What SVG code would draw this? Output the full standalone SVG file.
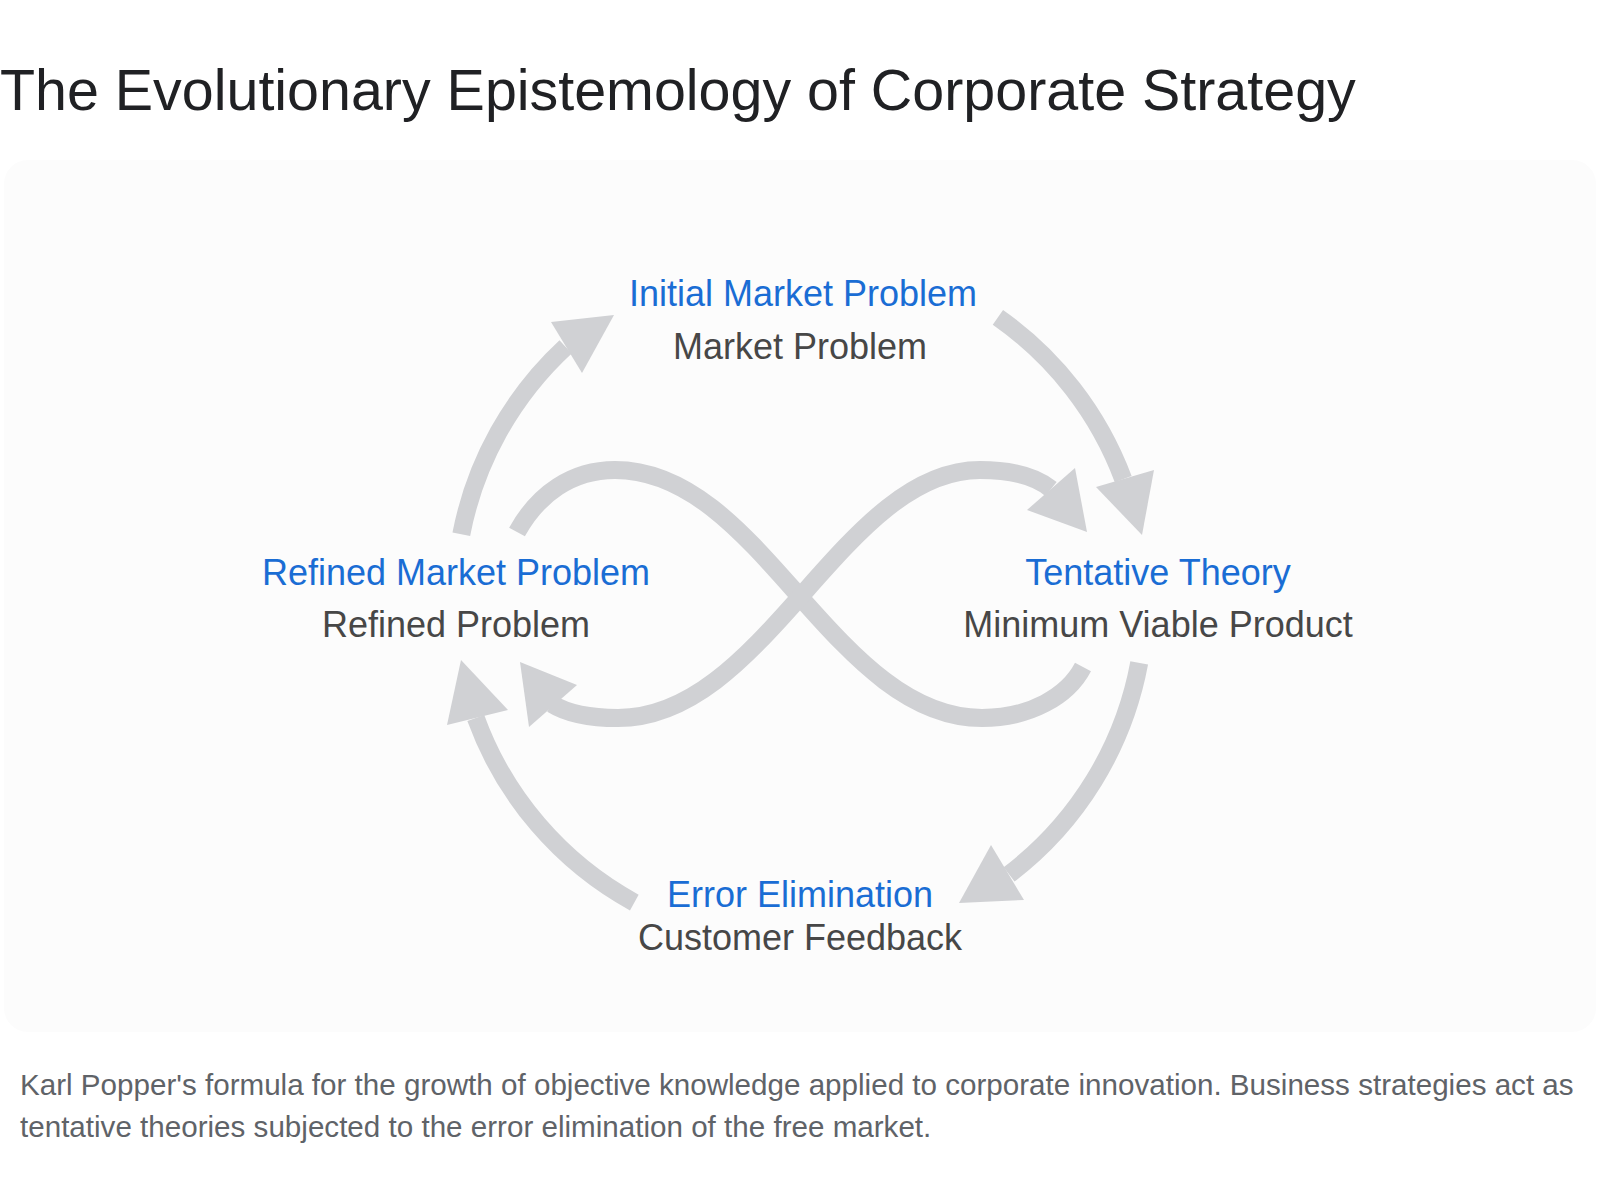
<svg xmlns="http://www.w3.org/2000/svg" width="1600" height="1200" viewBox="0 0 1600 1200">
  <style>
    .title { font-family: "Liberation Sans", Arial, sans-serif; font-size: 57.4px; fill: #202124; }
    .head { font-family: "Liberation Sans", Arial, sans-serif; font-size: 36px; fill: #1a6dd4; text-anchor: middle; }
    .sub { font-family: "Liberation Sans", Arial, sans-serif; font-size: 36px; fill: #474747; text-anchor: middle; }
    .caption { font-family: "Liberation Sans", Arial, sans-serif; font-size: 29.6px; fill: #5f6368; }
    .shaft { fill: none; stroke: #d0d1d4; stroke-width: 18; stroke-linecap: butt; }
    .head-tri { fill: #d0d1d4; }
  </style>
  <rect width="1600" height="1200" fill="#ffffff"/>
  <text class="title" x="0" y="110">The Evolutionary Epistemology of Corporate Strategy</text>
  <rect id="panel" x="4" y="160" width="1592" height="872" rx="24" fill="#fcfcfc"/>

  <g id="connectors">
    <!-- outer cycle -->
    <path class="shaft" d="M461.3,534.2 A345,345 0 0 1 565.6,346.9"/>
    <polygon class="head-tri" points="614,315 551,322 582,373"/>
    <path class="shaft" d="M997.9,317.4 A345,345 0 0 1 1123.2,479.2"/>
    <polygon class="head-tri" points="1142,535 1096,487 1154,470"/>
    <path class="shaft" d="M1139.2,662.9 A345,345 0 0 1 1009.1,874.4"/>
    <polygon class="head-tri" points="959,903 991,845 1024,900"/>
    <path class="shaft" d="M634.3,902.6 A345,345 0 0 1 475.8,718"/>
    <polygon class="head-tri" points="461,660 447,725 508,710"/>
    <!-- infinity loop -->
    <path class="shaft" d="M517,532 C538,494 572,470 615,470 C690,470 745,535 800,597 C855,659 910,718 982,718 C1030,718 1068,696 1083,667"/>
    <path class="shaft" d="M552,704 C568,714 590,718 618,718 C690,718 745,659 800,597 C855,535 910,470 980,470 C1010,470 1035,476 1051,489"/>
    <polygon class="head-tri" points="520,662 577,685 529,727"/>
    <polygon class="head-tri" points="1087,532 1027,510 1075,468"/>
  </g>

  <g id="node-initial">
    <text class="head" x="803" y="306">Initial Market Problem</text>
    <text class="sub" x="800" y="359">Market Problem</text>
  </g>
  <g id="node-tentative">
    <text class="head" x="1158" y="585">Tentative Theory</text>
    <text class="sub" x="1158" y="637">Minimum Viable Product</text>
  </g>
  <g id="node-error">
    <text class="head" x="800" y="907">Error Elimination</text>
    <text class="sub" x="800" y="950">Customer Feedback</text>
  </g>
  <g id="node-refined">
    <text class="head" x="456" y="585">Refined Market Problem</text>
    <text class="sub" x="456" y="637">Refined Problem</text>
  </g>

  <g id="caption">
    <text class="caption" x="20" y="1095">Karl Popper's formula for the growth of objective knowledge applied to corporate innovation. Business strategies act as</text>
    <text class="caption" x="20" y="1137">tentative theories subjected to the error elimination of the free market.</text>
  </g>
</svg>
